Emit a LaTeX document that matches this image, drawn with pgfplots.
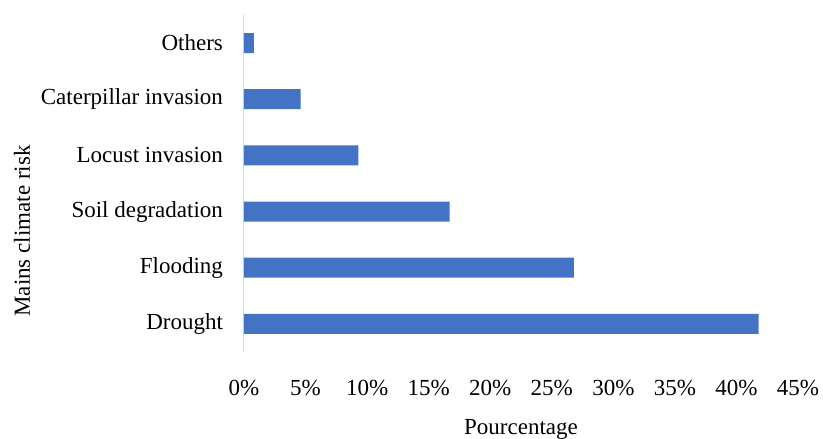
\documentclass[border=0pt]{standalone}
\usepackage{fontspec}
\setmainfont{Liberation Serif}
\usepackage{pgfplots}
\pgfplotsset{compat=1.18}
\usetikzlibrary{calc}
\definecolor{barblue}{HTML}{4472C4}
\definecolor{axisgray}{HTML}{D9D9D9}
\begin{document}
\begin{tikzpicture}
\fontsize{11.5}{13.5}\selectfont
\begin{axis}[
  scale only axis,
  width=277pt, height=168.5pt,
  xbar, bar width=10pt,
  xmin=0, xmax=45,
  ymin=-0.5, ymax=5.5,
  xtick={0,5,...,45},
  xticklabel={\pgfmathprintnumber{\tick}\%},
  ytick={0,1,2,3,4,5},
  yticklabels={Drought,Flooding,Soil degradation,Locust invasion,Caterpillar invasion,Others},
  /pgf/number format/assume math mode=true,
  major tick length=0pt,
  axis x line*=bottom, axis y line*=left,
  x axis line style={draw=none},
  y axis line style={draw=axisgray, line width=0.5pt, -},
  tick label style={font=\fontsize{11.5}{13.5}\selectfont},
  xticklabel style={yshift=-10.2pt},
  yticklabel style={xshift=-6.5pt},
  every axis x label/.style={at={(rel axis cs:0.5,0)}, anchor=north, yshift=-29.5pt},
  every axis y label/.style={at={(rel axis cs:-0.4007,0.359)}, anchor=center, rotate=90},
  label style={font=\fontsize{11.5}{13.5}\selectfont},
  xlabel={Pourcentage},
  ylabel={Mains climate risk},
]
\addplot[fill=barblue, draw=none] coordinates {
  (41.8,0) (26.8,1) (16.7,2) (9.3,3) (4.6,4) (0.8,5)
};
\end{axis}
\pgfresetboundingbox
\path[use as bounding box] ($(current axis.south west)+(-122pt,-43.5pt)$) rectangle ($(current axis.north east)+(12.5pt,7.5pt)$);
\end{tikzpicture}
\end{document}
